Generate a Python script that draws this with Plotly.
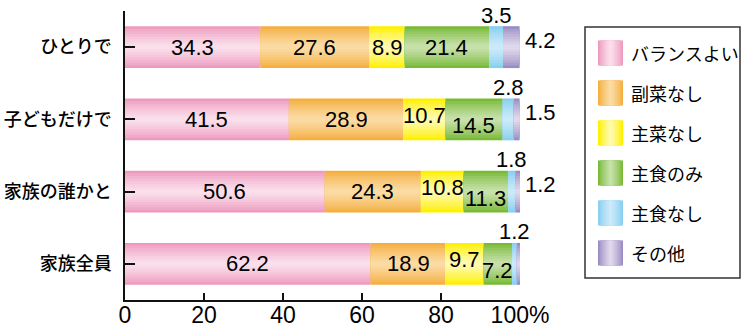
import plotly.graph_objects as go
import numpy as np

categories = ["ひとりで", "子どもだけで", "家族の誰かと", "家族全員"]
series_names = ["バランスよい", "副菜なし", "主菜なし", "主食のみ", "主食なし", "その他"]
balance = [34.3, 41.5, 50.6, 62.2]
no_side = [27.6, 28.9, 24.3, 18.9]
no_main = [8.9, 10.7, 10.8, 9.7]
staple_only = [21.4, 14.5, 11.3, 7.2]
no_staple = [3.5, 2.8, 1.8, 1.2]
other = [4.2, 1.5, 1.2, 0.9]
x_tick_vals = [0, 20, 40, 60, 80, 100]
x_tick_text = ["0", "20", "40", "60", "80", "100%"]

series_values = [balance, no_side, no_main, staple_only, no_staple, other]

# styles (edge colour, centre colour)
edge_colors = ["#EE9ABF", "#F5AF40", "#FFF000", "#79BA36", "#88CFF0", "#9B8DC3"]
center_colors = ["#FADFEB", "#FBDBA4", "#FFFAB0", "#C6E0AA", "#CBEAF9", "#DFD8EC"]

W, H = 741, 330
L, R, T, B = 125, 221, 11, 30
PW, PH = W - L - R, H - T - B


def hex2rgb(h):
    h = h.lstrip("#")
    return tuple(int(h[i:i + 2], 16) for i in (0, 2, 4))


def mix(c1, c2, t):
    a, b = hex2rgb(c1), hex2rgb(c2)
    return "rgb(%d,%d,%d)" % tuple(round(a[i] + (b[i] - a[i]) * t) for i in range(3))


def px2x(px):
    return (px - L) / PW


def py2y(py):
    return (H - B - py) / PH


fig = go.Figure()
BAR_W = 0.58
N_LAYERS = 8
vals = np.array(series_values)
starts = np.vstack([np.zeros(len(categories)), np.cumsum(vals, axis=0)[:-1]])

for s, name in enumerate(series_names):
    for k in range(N_LAYERS):
        t = k / (N_LAYERS - 1)
        w = BAR_W * (1 - k / N_LAYERS)
        fig.add_trace(go.Bar(
            y=categories, x=vals[s], base=starts[s], orientation="h",
            width=w, name=name, showlegend=False, hoverinfo="skip",
            marker=dict(color=mix(edge_colors[s], center_colors[s], t ** 0.8), line=dict(width=0)),
        ))

annotations = []
label_font = dict(family="Liberation Sans, Arial, sans-serif", size=22, color="#000")
inside_shift = {(1, 2): 4, (1, 3): -6, (2, 2): 4, (2, 3): -7, (3, 2): 4, (3, 3): -7}
for s in range(4):
    for c in range(len(categories)):
        v = vals[s][c]
        annotations.append(dict(
            x=starts[s][c] + v / 2, y=categories[c], xref="x", yref="y",
            text="%.1f" % v, showarrow=False, font=label_font,
            yshift=inside_shift.get((c, s), 0),
        ))
# small segments: above bar and to the right
for c in range(len(categories)):
    v = vals[4][c]
    annotations.append(dict(
        x=starts[4][c] + v / 2, y=categories[c], xref="x", yref="y",
        text="%.1f" % v, showarrow=False, font=label_font, yshift=32,
    ))
    v = vals[5][c]
    annotations.append(dict(
        x=starts[5][c] + v, y=categories[c], xref="x", yref="y",
        text="%.1f" % v, showarrow=False, font=label_font, xanchor="left",
        xshift=3, yshift=7,
    ))

shapes = []
# legend box
shapes.append(dict(type="rect", xref="paper", yref="paper",
                   x0=px2x(585), x1=px2x(740), y0=py2y(278), y1=py2y(27),
                   line=dict(color="#333", width=1.5), fillcolor="white", layer="below"))
for i, name in enumerate(series_names):
    cy = 53 + 40 * i
    n = 8
    for k in range(n):
        t = k / (n - 1)
        half = 12.5 * (1 - k / n)
        shapes.append(dict(type="rect", xref="paper", yref="paper",
                           x0=px2x(610.5 - half), x1=px2x(610.5 + half),
                           y0=py2y(cy + 12.5), y1=py2y(cy - 12.5),
                           line=dict(width=0),
                           fillcolor=mix(edge_colors[i], center_colors[i], t ** 0.8)))
    annotations.append(dict(x=px2x(629), y=py2y(cy), xref="paper", yref="paper",
                            text=name, showarrow=False, xanchor="left", yanchor="middle",
                            font=dict(family="Noto Sans CJK JP", size=18, color="#000")))

fig.update_layout(
    width=W, height=H, margin=dict(l=L, r=R, t=T, b=B, autoexpand=False),
    barmode="overlay", plot_bgcolor="white", paper_bgcolor="white",
    shapes=shapes, annotations=annotations, showlegend=False,
    xaxis=dict(range=[0, 100], tickvals=x_tick_vals, ticktext=x_tick_text,
               ticks="inside", ticklen=7, tickwidth=1.5, tickcolor="#111",
               showline=True, linecolor="#111", linewidth=1.5, showgrid=False,
               zeroline=False, automargin=False, ticklabelstandoff=-6,
               tickfont=dict(family="Liberation Sans, Arial, sans-serif", size=23, color="#000")),
    yaxis=dict(categoryorder="array", categoryarray=categories,
               range=[3.5, -0.5], ticks="inside", ticklen=10, tickwidth=1.5,
               tickcolor="#111", showline=True, linecolor="#111", linewidth=1.5,
               showgrid=False, zeroline=False, ticklabelstandoff=8, automargin=False,
               tickfont=dict(family="Noto Sans CJK JP", size=18, color="#000", weight=500)),
)

fig.write_html("out.html", config={"displayModeBar": False},
               post_script="document.body.style.margin='0';document.body.style.overflow='hidden';")
